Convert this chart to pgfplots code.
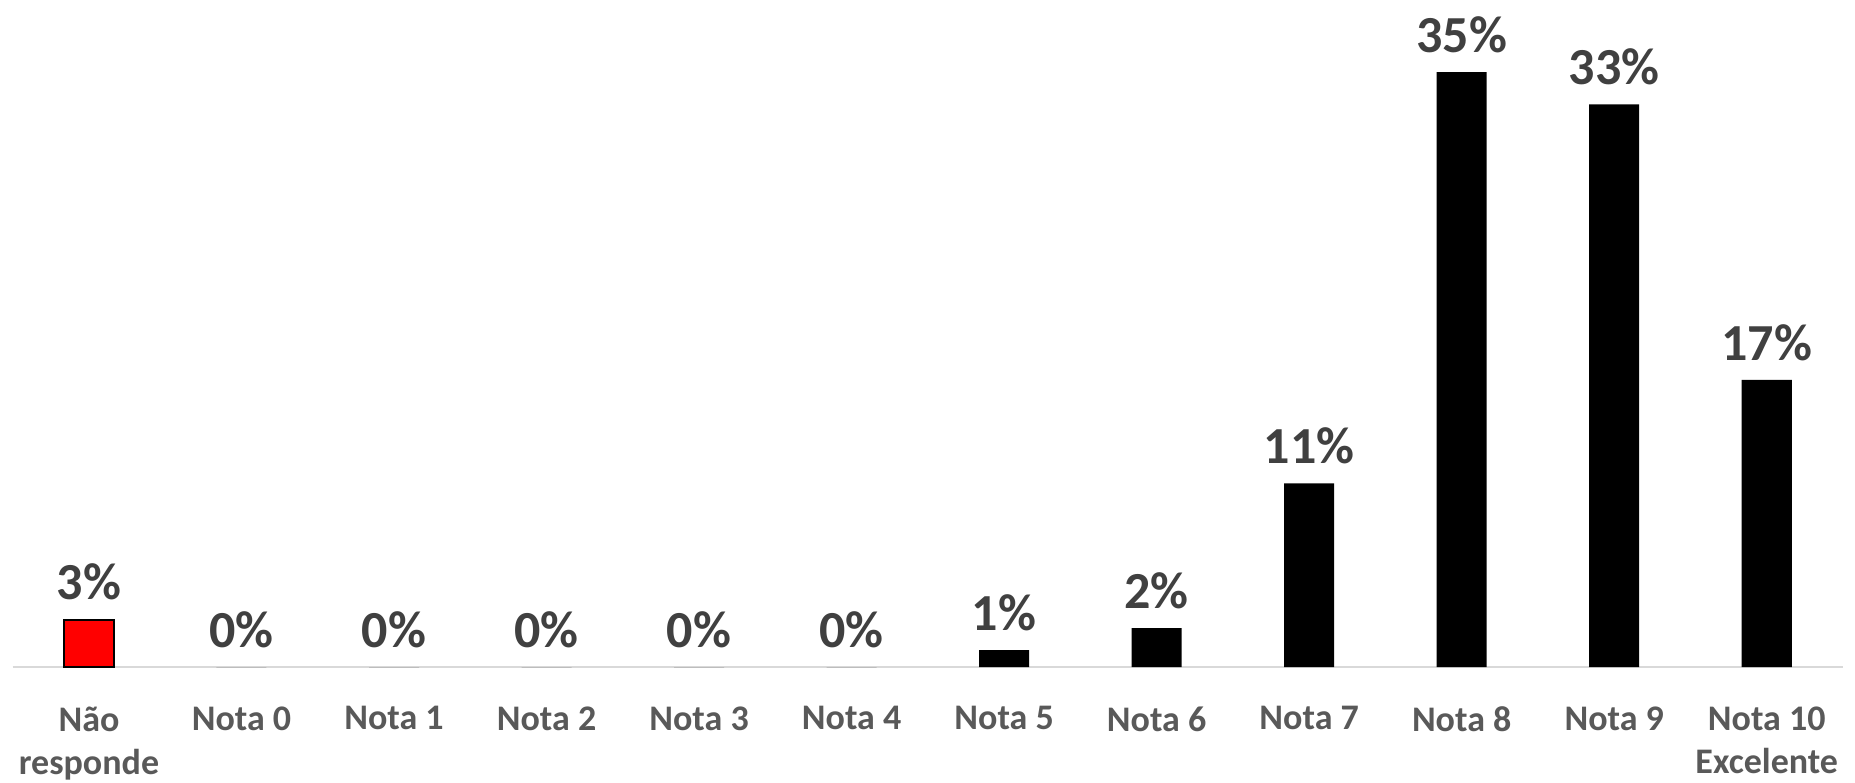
\documentclass[border=0pt]{standalone}
\usepackage{pgfplots}
\pgfplotsset{compat=1.18}
\usepackage{fontspec}
\setmainfont{Carlito}
\definecolor{lbl}{HTML}{404040}
\definecolor{tck}{HTML}{595959}
\definecolor{baseln}{HTML}{D9D9D9}
\begin{document}
\begin{tikzpicture}
\path[use as bounding box] (-6.35pt,-57.5pt) rectangle (921pt,333.5pt);
\begin{axis}[
    at={(0,0)}, anchor=south west,
    scale only axis,
    width=915pt, height=333.5pt,
    xmin=-0.5, xmax=11.5,
    ymin=0, ymax=39.24,
    axis x line=bottom, axis y line=none,
    x axis line style={-, draw=baseln, line width=1pt},
    xtick={0,...,11},
    xticklabels={N\~ao\\responde, Nota 0, Nota 1, Nota 2, Nota 3, Nota 4,
                 Nota 5, Nota 6, Nota 7, Nota 8, Nota 9, Nota 10\\Excelente},
    xtick style={draw=none},
    xticklabel style={align=center, font=\fontsize{18}{21.5}\selectfont\bfseries,
                      text=tck, yshift=-14pt},
    ytick=\empty,
    /pgf/number format/assume math mode=true,
    point meta=y,
    nodes near coords={\pgfmathprintnumber[fixed,precision=0]{\pgfplotspointmeta}\%},
    nodes near coords style={font=\fontsize{26}{30}\selectfont\bfseries, text=lbl,
                             anchor=south, yshift=6pt},
    clip=false,
]
% No responde (red)
\addplot[ybar, bar width=25pt, bar shift=0pt, fill=red, draw=black, line width=1pt]
    coordinates {(0,2.8)};
% Notas
\addplot[ybar, bar width=25pt, bar shift=0pt, fill=black, draw=none]
    coordinates {
    (1,0) (2,0) (3,0) (4,0) (5,0) (6,1.0)
    (7,2.3) (8,10.8) (9,35) (10,33.1) (11,16.9)
};
\end{axis}
\end{tikzpicture}
\end{document}
